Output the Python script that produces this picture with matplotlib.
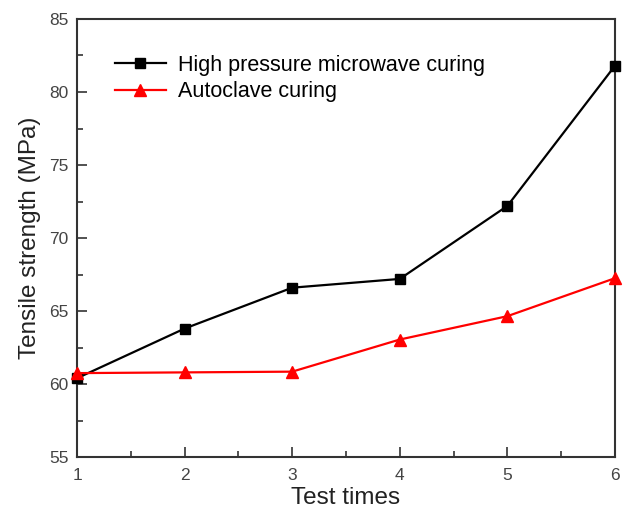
import matplotlib
matplotlib.use("Agg")
import matplotlib.pyplot as plt
from matplotlib.ticker import MultipleLocator

plt.rcParams['font.family'] = ['Liberation Sans', 'DejaVu Sans']

test_times = [1, 2, 3, 4, 5, 6]
microwave = [60.4, 63.8, 66.6, 67.2, 72.2, 81.8]
autoclave = [60.75, 60.8, 60.85, 63.05, 64.65, 67.25]
labels = ["High pressure microwave curing", "Autoclave curing"]

fig = plt.figure(figsize=(6.25, 5.13), dpi=100)
ax = fig.add_axes([0.1232, 0.109, 0.8608, 0.854])

ax.plot(test_times, microwave, color='black', lw=1.6, marker='s', ms=6.5,
        label=labels[0], clip_on=False, zorder=3)
ax.plot(test_times, autoclave, color='#ff0000', lw=1.6, marker='^', ms=8,
        label=labels[1], clip_on=False, zorder=3)

ax.set_xlim(1, 6)
ax.set_ylim(55, 85)
ax.xaxis.set_major_locator(MultipleLocator(1))
ax.xaxis.set_minor_locator(MultipleLocator(0.5))
ax.yaxis.set_major_locator(MultipleLocator(5))
ax.yaxis.set_minor_locator(MultipleLocator(2.5))
ax.tick_params(which='both', direction='in', color='#333333', width=1.2,
               labelsize=12.5, labelcolor='#444444')
ax.tick_params(which='major', length=7, pad=6)
ax.tick_params(axis='x', which='major', pad=8)
ax.tick_params(which='minor', length=4)
for s in ax.spines.values():
    s.set_color('#333333')
    s.set_linewidth(1.5)

ax.set_xlabel("Test times", fontsize=17.5, color='#222222', labelpad=3)
ax.set_ylabel("Tensile strength (MPa)", fontsize=17.5, color='#222222', labelpad=6)

ax.legend(loc='upper left', bbox_to_anchor=(0.050, 0.943), frameon=False,
          fontsize=15.5, handlelength=2.4, handletextpad=0.55, borderpad=0,
          labelspacing=0.25)

fig.savefig("out.png", dpi=100)
